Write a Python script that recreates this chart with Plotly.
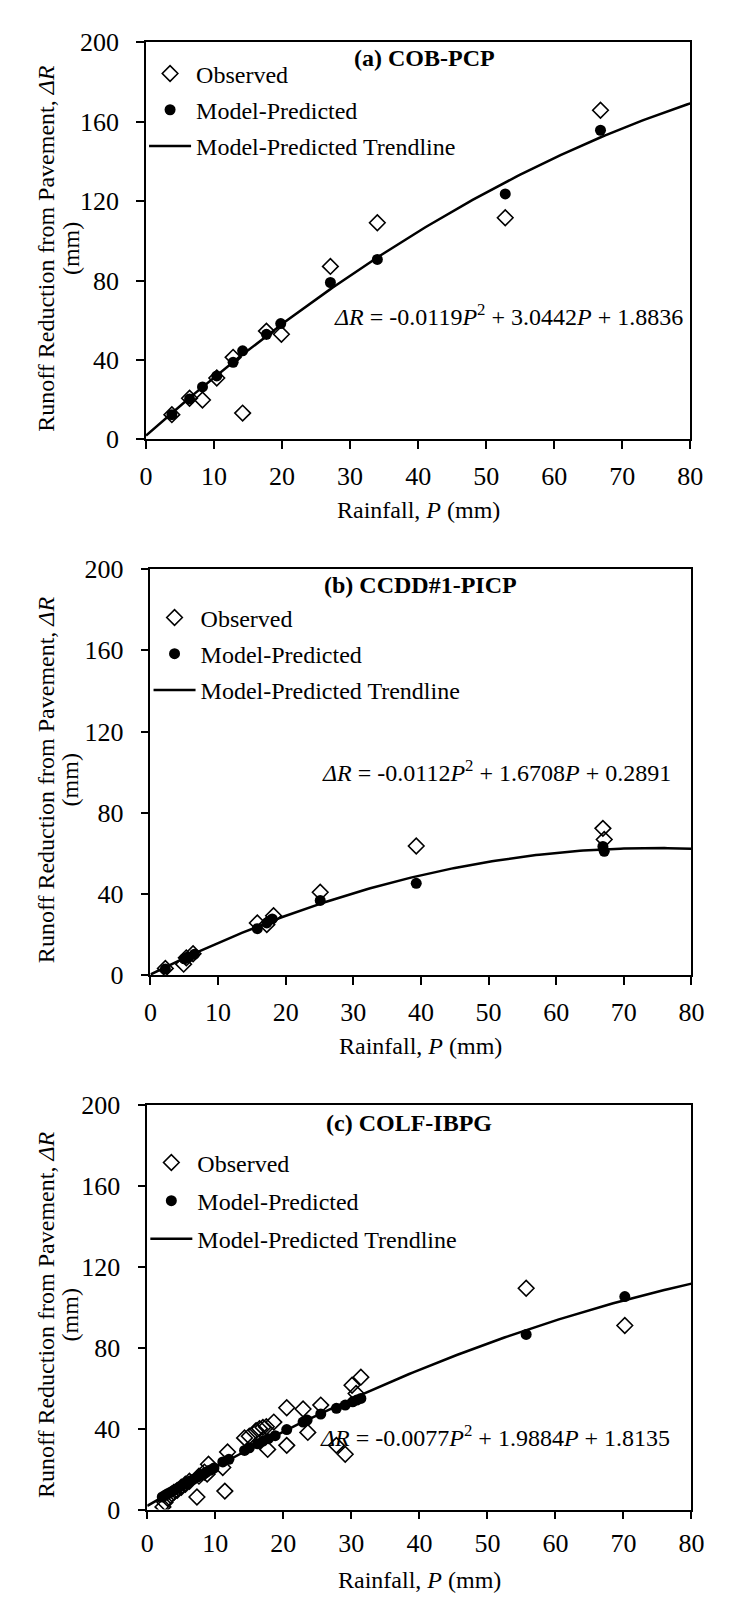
import numpy as np
import plotly.graph_objects as go

FONT = "Liberation Serif"

# ---------------- data ----------------
panel_titles = ["(a) COB-PCP", "(b) CCDD#1-PICP", "(c) COLF-IBPG"]

# (a) COB-PCP
a_obs_P = [3.8, 6.4, 8.3, 10.4, 12.8, 14.2, 17.7, 19.9, 27.1, 34.0, 52.8, 66.8]
a_obs_R = [12.4, 20.7, 19.8, 30.9, 41.3, 13.2, 54.5, 52.9, 87.1, 109.1, 111.6, 165.8]
a_pred_P = [3.8, 6.4, 8.3, 10.4, 12.8, 14.2, 17.7, 19.8, 27.1, 34.0, 52.8, 66.8]
a_pred_R = [12.4, 20.3, 26.4, 31.9, 38.8, 44.6, 52.9, 58.3, 79.0, 90.6, 123.6, 155.7]
a_coef = [-0.0119, 3.0442, 1.8836]
a_eq = "<i>ΔR</i> = -0.0119<i>P</i><sup>2</sup> + 3.0442<i>P</i> + 1.8836"

# (b) CCDD#1-PICP
b_obs_P = [2.2, 4.9, 5.3, 6.3, 15.8, 17.2, 18.2, 25.1, 39.3, 66.9, 67.1]
b_obs_R = [3.3, 5.4, 8.5, 10.5, 25.7, 24.9, 29.3, 40.8, 63.6, 72.3, 66.8]
b_pred_P = [2.2, 5.0, 5.5, 6.5, 15.8, 17.2, 18.0, 25.1, 39.3, 66.9, 67.1]
b_pred_R = [3.0, 8.0, 8.8, 10.3, 22.9, 25.7, 27.7, 36.8, 45.2, 63.4, 61.0]
b_coef = [-0.0112, 1.6708, 0.2891]
b_eq = "<i>ΔR</i> = -0.0112<i>P</i><sup>2</sup> + 1.6708<i>P</i> + 0.2891"

# (c) COLF-IBPG
c_obs_P = [2.3, 2.6, 3.0, 3.4, 3.9, 4.4, 5.0, 5.6, 6.2, 7.3, 7.6, 8.4, 8.8, 9.0,
           11.1, 11.4, 11.8, 14.3, 15.0, 16.0, 16.5, 17.0, 17.5, 17.7, 18.6,
           20.5, 20.5, 22.9, 23.6, 25.5, 27.8, 29.1, 30.1, 30.7, 31.4, 55.7, 70.2]
c_obs_R = [1.3, 3.5, 5.5, 7.0, 8.5, 9.5, 11.0, 12.5, 14.0, 6.2, 16.5, 18.5, 17.5, 22.4,
           20.8, 9.1, 28.4, 35.4, 36.2, 39.0, 40.0, 40.6, 40.9, 29.7, 43.2,
           50.3, 31.7, 49.7, 38.1, 51.6, 31.7, 27.3, 61.4, 57.3, 65.4, 109.3, 90.9]
c_pred_P = [2.2, 2.6, 3.0, 3.4, 3.9, 4.4, 5.0, 5.6, 6.2, 6.8, 7.4, 8.0, 8.6, 9.2, 9.8,
            11.1, 12.0, 14.3, 15.0, 16.2, 17.0, 17.8, 18.8, 20.5, 22.9, 23.5, 25.5,
            27.8, 29.1, 30.2, 30.8, 31.4, 55.7, 70.2]
c_pred_R = [6.2, 7.0, 7.8, 8.5, 9.5, 10.4, 11.6, 12.7, 14.0, 15.0, 16.1, 17.2, 18.3, 19.4, 20.5,
            23.5, 24.8, 29.2, 30.5, 32.5, 33.8, 35.0, 36.5, 39.5, 43.2, 44.2, 47.2,
            50.0, 51.6, 53.2, 54.1, 54.9, 86.5, 105.2]
c_coef = [-0.0077, 1.9884, 1.8135]
c_eq = "<i>ΔR</i> = -0.0077<i>P</i><sup>2</sup> + 1.9884<i>P</i> + 1.8135"

x_ticks = [0, 10, 20, 30, 40, 50, 60, 70, 80]
y_ticks = [0, 40, 80, 120, 160, 200]

panels = [
    dict(obsP=a_obs_P, obsR=a_obs_R, predP=a_pred_P, predR=a_pred_R, coef=a_coef, eq=a_eq),
    dict(obsP=b_obs_P, obsR=b_obs_R, predP=b_pred_P, predR=b_pred_R, coef=b_coef, eq=b_eq),
    dict(obsP=c_obs_P, obsR=c_obs_R, predP=c_pred_P, predR=c_pred_R, coef=c_coef, eq=c_eq),
]

# ---------------- layout geometry (pixels) ----------------
W, H = 731, 1600
# left, right, top, bottom of each plot area
boxes = [(134.7, 694.3, 20.7, 425.0),
         (139.3, 695.5, 557.3, 970.7),
         (136.0, 695.5, 1102.7, 1515.0)]
xlab_standoff = [5, 5, 2]
xtitle_off = [72, 72, 72]
legend_top = [30, 584, 1139]
legend_gap = [2, 2, 4]
eq_pos = [(79.2, 62.8), (77.2, 100.4), (77.2, 36.2)]
title_pos = [(41.0, 192.2), (40.0, 192.4), (38.5, 191.0)]
ytitle_x = (32, 57)

def px(x):
    return x / W

def py(y):
    return 1 - y / H

fig = go.Figure()
annotations = []

for i, p in enumerate(panels):
    k = "" if i == 0 else str(i + 1)
    xa, ya = "x" + k, "y" + k
    leg = "legend" + k
    Pgrid = np.linspace(0, 80, 161)
    Rfit = np.polyval(p["coef"], Pgrid)
    fig.add_trace(go.Scatter(x=Pgrid, y=Rfit, mode="lines", name="Model-Predicted Trendline",
                             line=dict(color="black", width=2.5), xaxis=xa, yaxis=ya,
                             legend=leg, legendrank=3, legendgroup="t%d" % i))
    fig.add_trace(go.Scatter(x=p["obsP"], y=p["obsR"], mode="markers", name="Observed",
                             marker=dict(symbol="diamond-open", size=12, color="black",
                                         line=dict(width=1.6, color="black")),
                             xaxis=xa, yaxis=ya, legend=leg, legendrank=1, legendgroup="o%d" % i))
    fig.add_trace(go.Scatter(x=p["predP"], y=p["predR"], mode="markers", name="Model-Predicted",
                             marker=dict(symbol="circle", size=11, color="black"),
                             xaxis=xa, yaxis=ya, legend=leg, legendrank=2, legendgroup="p%d" % i))

    l, r, t, b = boxes[i]
    axis_common = dict(showline=True, linecolor="black", linewidth=1.5, mirror=True,
                       ticks="outside", ticklen=8, tickwidth=1.5, tickcolor="black",
                       showgrid=False, zeroline=False,
                       tickfont=dict(family=FONT, size=26, color="black"))
    fig.update_layout(**{
        "xaxis" + k: dict(axis_common, domain=[px(l), px(r)], range=[0, 80], tickvals=x_ticks,
                          anchor=ya, ticklabelstandoff=xlab_standoff[i]),
        "yaxis" + k: dict(axis_common, domain=[py(b), py(t)], range=[0, 200], tickvals=y_ticks,
                          anchor=xa, ticklabelstandoff=12),
        leg: dict(x=px(l - 2), y=py(legend_top[i]), xanchor="left", yanchor="top",
                  bgcolor="rgba(0,0,0,0)", tracegroupgap=legend_gap[i], itemwidth=42,
                  font=dict(family=FONT, size=24, color="black")),
    })
    # equation
    annotations.append(dict(x=eq_pos[i][0], y=eq_pos[i][1], xref=xa, yref=ya, text=p["eq"],
                            showarrow=False, xanchor="right", yanchor="middle",
                            font=dict(family=FONT, size=24, color="black")))
    # panel title
    annotations.append(dict(x=title_pos[i][0], y=title_pos[i][1], xref=xa, yref=ya,
                            text="<b>%s</b>" % panel_titles[i], showarrow=False,
                            xanchor="center", yanchor="middle",
                            font=dict(family=FONT, size=24, color="black")))
    # x axis title
    annotations.append(dict(x=px((l + r) / 2), y=py(b + xtitle_off[i]), xref="paper", yref="paper",
                            text="Rainfall, <i>P</i> (mm)", showarrow=False,
                            xanchor="center", yanchor="middle",
                            font=dict(family=FONT, size=24, color="black")))
    # y axis title (two lines)
    yc = (t + b) / 2 + 8
    annotations.append(dict(x=px(ytitle_x[0]), y=py(yc), xref="paper", yref="paper",
                            text="Runoff Reduction from Pavement, <i>ΔR</i>", showarrow=False,
                            textangle=-90, xanchor="center", yanchor="middle",
                            font=dict(family=FONT, size=24, color="black")))
    annotations.append(dict(x=px(ytitle_x[1]), y=py(yc), xref="paper", yref="paper",
                            text="(mm)", showarrow=False,
                            textangle=-90, xanchor="center", yanchor="middle",
                            font=dict(family=FONT, size=24, color="black")))

fig.update_layout(width=W, height=H, margin=dict(l=0, r=0, t=0, b=0),
                  paper_bgcolor="white", plot_bgcolor="white",
                  annotations=annotations, showlegend=True)

fig.write_html("out.html")
